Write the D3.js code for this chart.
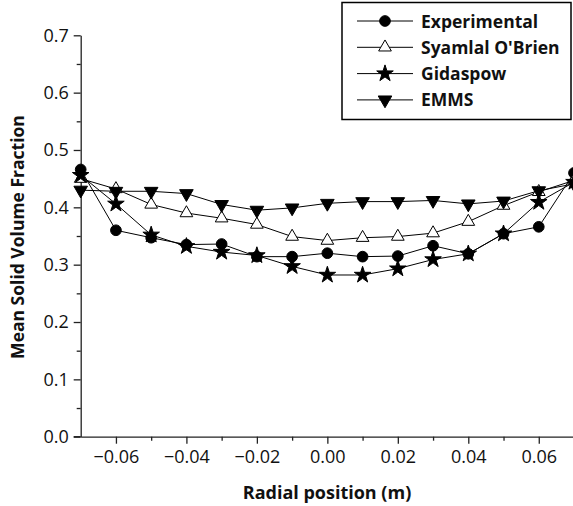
<!DOCTYPE html>
<html><head><meta charset="utf-8">
<script src="https://cdn.jsdelivr.net/npm/d3@7"></script>
<style>body{margin:0;background:#fff}svg{display:block}</style>
</head><body>
<script>
const xValues = [-0.07,-0.06,-0.05,-0.04,-0.03,-0.02,-0.01,0.00,0.01,0.02,0.03,0.04,0.05,0.06,0.07];
const experimental = [0.466,0.360,0.347,0.335,0.336,0.314,0.314,0.320,0.314,0.315,0.333,0.319,0.354,0.366,0.460];
const syamlal      = [0.450,0.432,0.405,0.390,0.381,0.370,0.349,0.342,0.347,0.349,0.355,0.375,0.403,0.427,0.447];
const gidaspow     = [0.456,0.406,0.352,0.332,0.322,0.316,0.297,0.282,0.282,0.293,0.309,0.319,0.354,0.409,0.444];
const emms         = [0.430,0.428,0.428,0.424,0.405,0.395,0.399,0.407,0.410,0.410,0.412,0.406,0.411,0.429,0.441];
const seriesNames = ["Experimental","Syamlal O'Brien","Gidaspow","EMMS"];
const xTicks = [-0.06,-0.04,-0.02,0.00,0.02,0.04,0.06];
const xMinor = [-0.05,-0.03,-0.01,0.01,0.03,0.05];
const yTicks = [0.0,0.1,0.2,0.3,0.4,0.5,0.6,0.7];
const yMinor = [0.05,0.15,0.25,0.35,0.45,0.55,0.65];

const W = 573, H = 506;
const svg = d3.select("body").append("svg").attr("width", W).attr("height", H);
const font = "'Open Sans', 'Liberation Sans', sans-serif";

const x = d3.scaleLinear().domain([-0.07, 0.07]).range([80.7, 574]);
const y = d3.scaleLinear().domain([0, 0.7]).range([436.7, 35.3]);

// axes
svg.append("g").attr("transform", `translate(0,${y(0)})`)
  .call(d3.axisBottom(x).tickValues(xTicks).tickFormat(d3.format(".2f")).tickSizeInner(7).tickSizeOuter(0).tickPadding(7));
svg.append("g").attr("transform", `translate(0,${y(0)})`)
  .call(d3.axisBottom(x).tickValues(xMinor).tickFormat("").tickSizeInner(4).tickSizeOuter(0))
  .select(".domain").remove();
svg.append("g").attr("transform", `translate(${x(-0.07)},0)`)
  .call(d3.axisLeft(y).tickValues(yTicks).tickFormat(d3.format(".1f")).tickSizeInner(7).tickSizeOuter(0).tickPadding(5));
svg.append("g").attr("transform", `translate(${x(-0.07)},0)`)
  .call(d3.axisLeft(y).tickValues(yMinor).tickFormat("").tickSizeInner(4).tickSizeOuter(0))
  .select(".domain").remove();
svg.selectAll(".domain, .tick line").attr("stroke", "#222").attr("stroke-width", 1.3);
svg.selectAll(".tick text").attr("font-family", font).attr("font-size", 18).attr("fill", "#111");
svg.append("line").attr("x1", x(-0.07) - 7).attr("x2", x(-0.07)).attr("y1", y(0)).attr("y2", y(0))
  .attr("stroke", "#222").attr("stroke-width", 1.3);

// titles
svg.append("text").attr("x", 327).attr("y", 499).attr("text-anchor", "middle")
  .attr("font-family", font).attr("font-weight", "bold").attr("font-size", 18).attr("fill", "#111")
  .text("Radial position (m)");
svg.append("text").attr("transform", `translate(24,237) rotate(-90)`).attr("text-anchor", "middle")
  .attr("font-family", font).attr("font-weight", "bold").attr("font-size", 17.5).attr("fill", "#111")
  .text("Mean Solid Volume Fraction");

// symbols
const sym = {
  "Experimental": {type: d3.symbolCircle, size: 90, fill: "#000", rot: 0},
  "Syamlal O'Brien": {type: d3.symbolTriangle, size: 70, fill: "#fff", rot: 0},
  "Gidaspow": {type: d3.symbolStar, size: 85, fill: "#000", rot: 0},
  "EMMS": {type: d3.symbolTriangle, size: 80, fill: "#000", rot: 180}
};
const data = [experimental, syamlal, gidaspow, emms];
const line = d3.line().x((d,i) => x(xValues[i])).y(d => y(d));

seriesNames.forEach((name, k) => {
  svg.append("path").datum(data[k]).attr("d", line)
    .attr("fill", "none").attr("stroke", "#000").attr("stroke-width", 1);
});
seriesNames.forEach((name, k) => {
  const s = sym[name];
  svg.append("g").selectAll("path").data(data[k]).join("path")
    .attr("d", d3.symbol().type(s.type).size(s.size))
    .attr("transform", (d,i) => `translate(${x(xValues[i])},${y(d)}) rotate(${s.rot})`)
    .attr("fill", s.fill).attr("stroke", "#000").attr("stroke-width", 1);
});

// legend
const lg = svg.append("g");
lg.append("rect").attr("x", 342).attr("y", 2.5).attr("width", 229).attr("height", 117)
  .attr("fill", "#fff").attr("stroke", "#000").attr("stroke-width", 1.5);
seriesNames.forEach((name, k) => {
  const yy = 21 + k * 26.3;
  const s = sym[name];
  lg.append("line").attr("x1", 357).attr("x2", 413).attr("y1", yy).attr("y2", yy)
    .attr("stroke", "#000").attr("stroke-width", 1);
  lg.append("path").attr("d", d3.symbol().type(s.type).size(s.size))
    .attr("transform", `translate(385,${yy}) rotate(${s.rot})`)
    .attr("fill", s.fill).attr("stroke", "#000").attr("stroke-width", 1);
  lg.append("text").attr("x", 421).attr("y", yy + 6.5)
    .attr("font-family", font).attr("font-weight", "bold").attr("font-size", 17.5).attr("fill", "#111")
    .text(name);
});
</script>
</body></html>
